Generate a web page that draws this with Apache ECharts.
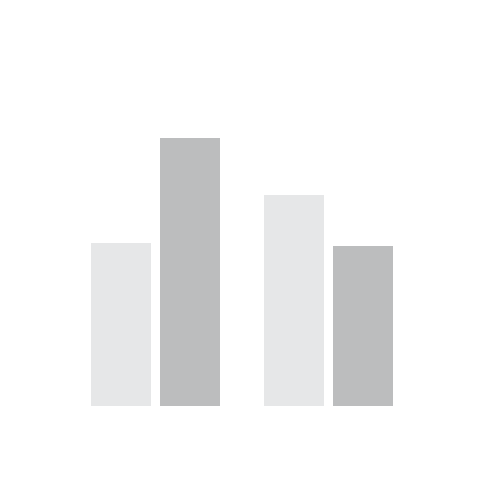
<!DOCTYPE html>
<html>
<head>
<meta charset="utf-8">
<style>html,body{margin:0;padding:0;background:#fff}#c{width:480px;height:480px}</style>
<script src="https://cdn.jsdelivr.net/npm/echarts@6/dist/echarts.min.js"></script>
</head>
<body>
<div id="c"></div>
<script>
const categories = ['A', 'B'];
const lightValues = [163, 211];
const darkValues = [268, 160];
const chart = echarts.init(document.getElementById('c'), null, {renderer: 'canvas'});
chart.setOption({
  animation: false,
  backgroundColor: '#ffffff',
  grid: {left: 69, width: 346, top: 106, height: 300},
  xAxis: {type: 'category', data: categories, show: false},
  yAxis: {type: 'value', min: 0, max: 300, show: false},
  series: [
    {type: 'bar', data: lightValues, barWidth: 60, barGap: '15%', itemStyle: {color: '#e6e7e8'}},
    {type: 'bar', data: darkValues, barWidth: 60, barGap: '15%', itemStyle: {color: '#bcbdbe'}}
  ]
});
</script>
</body>
</html>
